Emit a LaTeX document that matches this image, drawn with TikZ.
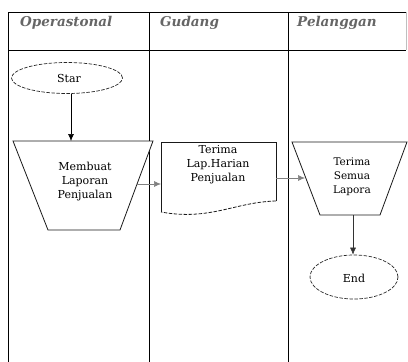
\documentclass[tikz,border=0pt]{standalone}
\usepackage{fontspec}
\setmainfont{DejaVu Serif}
\usetikzlibrary{arrows.meta,shapes.geometric}
\tikzset{
  lane/.style={line width=1pt, black},
  hdr/.style={font=\bfseries\itshape\fontsize{13.5}{15}\selectfont, text=black!60, anchor=west, inner sep=0pt},
  lbl/.style={font=\fontsize{11}{14}\selectfont, align=center, inner sep=0pt, text=black},
  term/.style={ellipse, draw=black!85, dash pattern=on 3.5pt off 1.5pt, line width=0.7pt, inner sep=0pt},
  boxline/.style={draw=black!90, line width=0.8pt},
  flow/.style={line width=0.6pt, -{Latex[length=7pt,width=6pt]}},
}
\begin{document}
\begin{tikzpicture}[x=1pt,y=-1pt]
\useasboundingbox (0,0) rectangle (408,362);
% swimlanes
\draw[lane] (8,12) -- (406,12);
\draw[lane] (8,50) -- (406,50);
\draw[lane] (8,12) -- (8,362);
\draw[lane] (149,12) -- (149,362);
\draw[lane] (288,12) -- (288,362);
\draw[black!25, line width=0.5pt] (406,12) -- (406,50);
\node[hdr] (h1) at (20,23) {Operastonal};
\node[hdr] (h2) at (160,23) {Gudang};
\node[hdr] (h3) at (297,23) {Pelanggan};
% start
\node[term, minimum width=111pt, minimum height=31pt] (start) at (67,78) {};
\node[lbl] (startt) at (69,78) {Star};
% trapezoid 1
\draw[boxline, fill=white] (13,141) -- (153,141) -- (120,230) -- (48,230) -- cycle;
\coordinate (t1top) at (71,141);
\coordinate (t1r) at (137,184);
\node[lbl] (t1) at (85,182) {Membuat\\Laporan\\Penjualan};
% document
\draw[boxline] (161,212) -- (161,142) -- (276,142) -- (276,201);
\draw[boxline, dash pattern=on 3.5pt off 1.5pt] (276,201) .. controls (235,202) and (210,221) .. (161,212);
\coordinate (docl) at (161,184);
\coordinate (docr) at (276,178);
\node[lbl] (doc) at (218,165) {Terima\\Lap.Harian\\Penjualan};
% trapezoid 2
\draw[boxline] (292,142) -- (407,142) -- (380,215) -- (320,215) -- cycle;
\coordinate (t2l) at (305,178);
\coordinate (t2b) at (353,215);
\node[lbl, font=\fontsize{10.5}{14}\selectfont] (t2) at (352,177) {Terima\\Semua\\Lapora};
% end
\node[term, minimum width=88pt, minimum height=44pt] (end) at (354,277) {};
\node[lbl] (endt) at (354,278) {End};
% connectors
\draw[flow, black] (start.south -| t1top) -- (t1top);
\draw[flow, black!50] (t1r) -- (docl);
\draw[flow, black!50] (docr) -- (t2l);
\draw[flow, black!80] (t2b) -- (end.north -| t2b);
\end{tikzpicture}
\end{document}
